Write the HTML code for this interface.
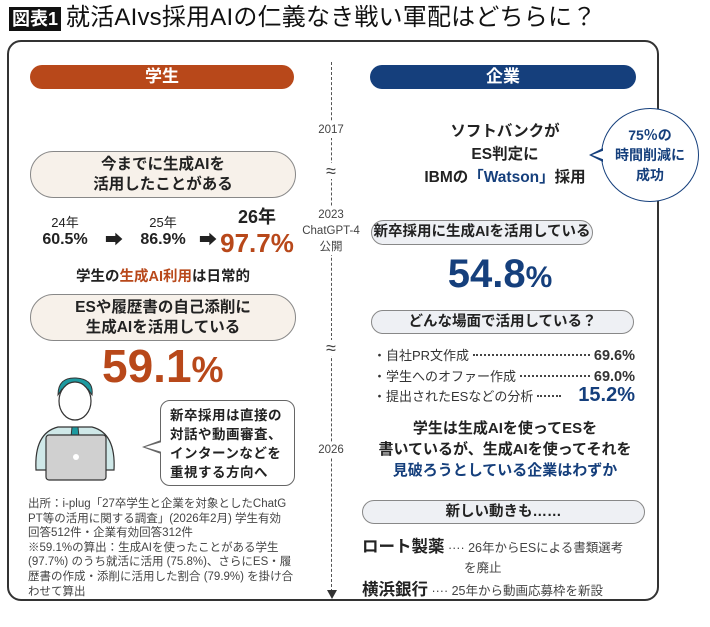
<!DOCTYPE html>
<html lang="ja"><head><meta charset="utf-8">
<style>
*{margin:0;padding:0;box-sizing:border-box}
body{width:710px;height:627px;background:#fff;font-family:"Liberation Sans","Noto Sans CJK JP",sans-serif;color:#222;position:relative;overflow:hidden}
.a{position:absolute}
.c{text-align:center}
.b{font-weight:bold}
.pill{position:absolute;border:1.2px solid #888;border-radius:30px;text-align:center;font-weight:bold;white-space:nowrap}
.or{color:#b8481a}.bl{color:#153f7c}
.tl{position:absolute;left:306px;width:50px;text-align:center;font-size:11.5px;color:#444;background:#fff;line-height:16px}
.li{position:absolute;left:373px;width:262px;font-size:13px;color:#333;display:flex;align-items:baseline;white-space:nowrap}
.li .d{flex:1;border-bottom:2px dotted #444;margin:0 4px;transform:translateY(-4px)}
</style></head><body>
<div class="a" style="left:9px;top:7px;width:52px;height:24px;background:#111;color:#fff;font-size:18px;font-weight:bold;line-height:24px;text-align:center">図表1</div>
<div class="a" style="left:66px;top:3px;font-size:24px;line-height:30px;color:#111;white-space:nowrap;letter-spacing:0.2px">就活AIvs採用AIの仁義なき戦い軍配はどちらに？</div>
<div class="a" style="left:7px;top:40px;width:652px;height:561px;border:2px solid #333;border-radius:14px"></div>
<div class="a" style="left:331px;top:62px;height:530px;border-left:1.3px dashed #555"></div>
<div class="a" style="left:327px;top:590px;width:0;height:0;border-left:5px solid transparent;border-right:5px solid transparent;border-top:9px solid #333"></div>
<div class="tl" style="top:122px">2017</div>
<div class="tl" style="top:163px;font-size:18px">≈</div>
<div class="tl" style="top:207px;left:296px;width:70px">2023<br>ChatGPT-4<br>公開</div>
<div class="tl" style="top:340px;font-size:18px">≈</div>
<div class="tl" style="top:442px">2026</div>

<div class="a c b" style="left:30px;top:65px;width:264px;height:24px;background:#b8481a;color:#fff;border-radius:12px;font-size:17px;line-height:24px">学生</div>
<div class="a c b" style="left:370px;top:65px;width:266px;height:24px;background:#153f7c;color:#fff;border-radius:12px;font-size:17px;line-height:24px">企業</div>

<div class="pill" style="left:30px;top:151px;width:266px;height:47px;background:#f7f1ea;font-size:15.5px;line-height:20px;padding-top:3px">今までに生成AIを<br>活用したことがある</div>
<div class="a c" style="left:35px;top:212px;width:60px;font-size:13px">24年<br><span class="b" style="font-size:16px">60.5%</span></div>
<div class="a" style="left:105px;top:226px;font-size:18px">➡</div>
<div class="a c" style="left:133px;top:212px;width:60px;font-size:13px">25年<br><span class="b" style="font-size:16px">86.9%</span></div>
<div class="a" style="left:199px;top:226px;font-size:18px">➡</div>
<div class="a c b" style="left:218px;top:206px;width:78px;font-size:18px;line-height:22px">26年<br><span class="or" style="font-size:26px;line-height:30px">97.7%</span></div>
<div class="a c b" style="left:30px;top:265px;width:266px;font-size:14.5px">学生の<span class="or">生成AI利用</span>は日常的</div>
<div class="pill" style="left:30px;top:294px;width:266px;height:47px;background:#f7f1ea;font-size:15.5px;line-height:20px;padding-top:3px">ESや履歴書の自己添削に<br>生成AIを活用している</div>
<div class="a b or" style="left:102px;top:340px;font-size:46px;line-height:52px">59.1<span style="font-size:36px">%</span></div>

<svg class="a" style="left:28px;top:375px" width="95" height="112" viewBox="0 0 95 112">
<path d="M30 20 Q30 2 48 3 Q66 4 64 20 L60 14 L34 14 Z" fill="#1d9aa0" stroke="#333"/>
<ellipse cx="47" cy="26" rx="16" ry="19" fill="#fff" stroke="#333" stroke-width="1.2"/>
<path d="M8 95 Q6 58 30 52 L64 52 Q88 58 86 95 Z" fill="#cfe8e8" stroke="#333" stroke-width="1.2"/>
<path d="M44 52 L50 52 L52 72 L47 78 L42 72 Z" fill="#1d9aa0" stroke="#333"/>
<rect x="18" y="60" width="60" height="45" rx="3" fill="#d0d0d0" stroke="#333" stroke-width="1.2"/>
<circle cx="48" cy="82" r="3" fill="#fff"/>
</svg>
<div class="a" style="left:160px;top:400px;width:135px;height:86px;border:1.2px solid #666;border-radius:10px;font-size:13.5px;font-weight:bold;line-height:19px;padding:5px 0 0 9px;letter-spacing:.5px">新卒採用は直接の<br>対話や動画審査、<br>インターンなどを<br>重視する方向へ</div>
<div class="a" style="left:142px;top:440px;width:0;height:0;border-top:7px solid transparent;border-bottom:7px solid transparent;border-right:19px solid #666"></div>
<div class="a" style="left:145px;top:441.5px;width:0;height:0;border-top:5.5px solid transparent;border-bottom:5.5px solid transparent;border-right:17px solid #fff"></div>
<div class="a" style="left:28px;top:497px;width:280px;font-size:11.5px;line-height:14.6px;color:#444;white-space:nowrap">出所：i-plug「27卒学生と企業を対象としたChatG<br>PT等の活用に関する調査」(2026年2月) 学生有効<br>回答512件・企業有効回答312件<br>※59.1%の算出：生成AIを使ったことがある学生<br>(97.7%) のうち就活に活用 (75.8%)、さらにES・履<br>歴書の作成・添削に活用した割合 (79.9%) を掛け合<br>わせて算出</div>

<div class="a c b" style="left:400px;top:120px;width:210px;font-size:15.5px;line-height:23px">ソフトバンクが<br>ES判定に<br>IBMの<span class="bl">「Watson」</span>採用</div>
<div class="a c b bl" style="left:601px;top:108px;width:98px;height:94px;border:1.5px solid #153f7c;border-radius:50%;background:#fff;font-size:14px;line-height:20px;padding-top:16px">75％の<br>時間削減に<br>成功</div>
<div class="a" style="left:589px;top:148px;width:0;height:0;border-top:7px solid transparent;border-bottom:7px solid transparent;border-right:14px solid #153f7c"></div>
<div class="a" style="left:592px;top:149.5px;width:0;height:0;border-top:5.5px solid transparent;border-bottom:5.5px solid transparent;border-right:13px solid #fff"></div>
<div class="pill" style="left:371px;top:220px;width:222px;height:25px;background:#eef0f4;font-size:14.5px;line-height:23px">新卒採用に生成AIを活用している</div>
<div class="a c b bl" style="left:380px;top:250px;width:240px;font-size:40px;line-height:48px">54.8<span style="font-size:30px">%</span></div>
<div class="pill" style="left:371px;top:310px;width:263px;height:24px;background:#eef0f4;font-size:14.5px;line-height:22px">どんな場面で活用している？</div>
<div class="li" style="top:345px">・自社PR文作成<span class="d"></span><b style="font-size:14.5px">69.6%</b></div>
<div class="li" style="top:366px">・学生へのオファー作成<span class="d"></span><b style="font-size:14.5px">69.0%</b></div>
<div class="li" style="top:384px">・提出されたESなどの分析<span class="d" style="flex:0 0 24px"></span><b class="bl" style="font-size:20px;margin-left:auto">15.2%</b></div>
<div class="a c b" style="left:365px;top:418px;width:280px;font-size:15px;line-height:21px">学生は生成AIを使ってESを<br>書いているが、生成AIを使ってそれを<br><span class="bl">見破ろうとしている企業はわずか</span></div>
<div class="pill" style="left:362px;top:500px;width:283px;height:24px;background:#eef0f4;font-size:14.5px;line-height:22px">新しい動きも……</div>
<div class="a" style="left:362px;top:537px;width:290px;font-size:12.5px;line-height:20px;color:#444"><b style="font-size:16.5px;color:#222">ロート製薬</b> ···· 26年からESによる書類選考<br><span style="padding-left:102px">を廃止</span></div>
<div class="a" style="left:362px;top:580px;width:290px;font-size:12.5px;line-height:20px;color:#444"><b style="font-size:16.5px;color:#222">横浜銀行</b> ···· 25年から動画応募枠を新設</div>
</body></html>
